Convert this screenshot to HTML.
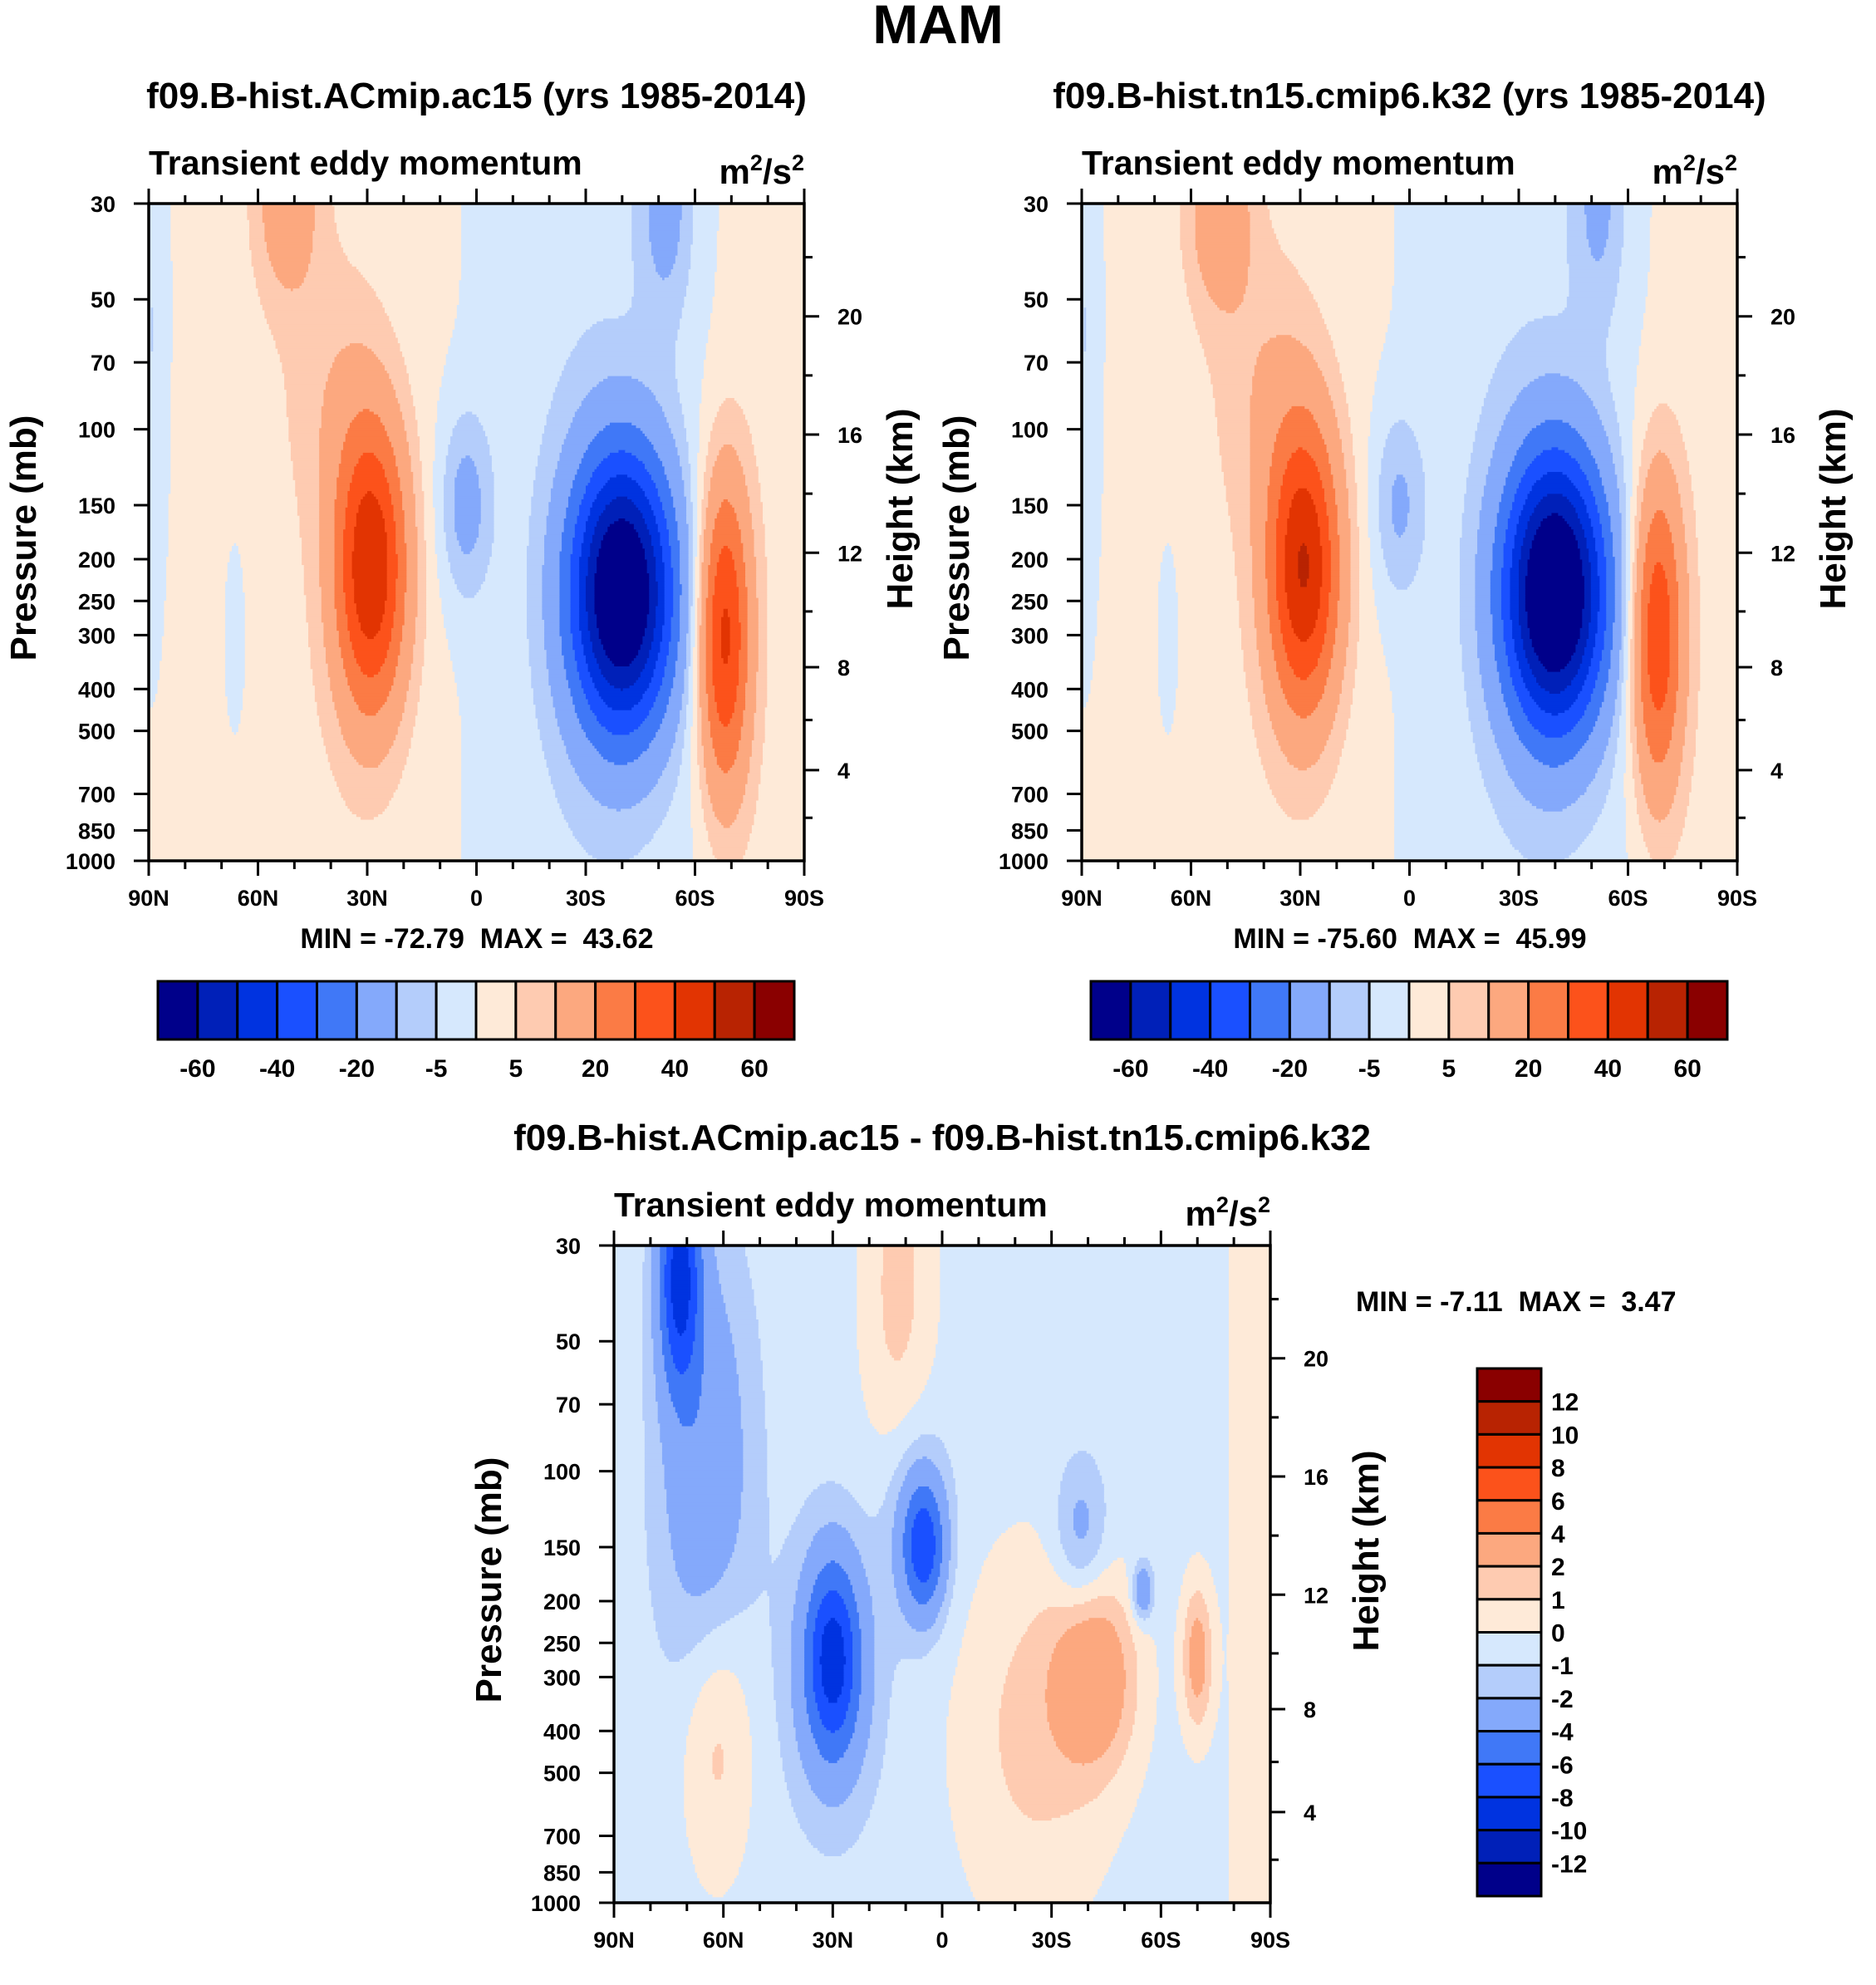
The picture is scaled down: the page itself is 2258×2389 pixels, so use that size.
<!DOCTYPE html>
<html><head><meta charset="utf-8"><style>
body{margin:0;background:#fff}
svg text{font-family:"Liberation Sans",sans-serif;font-weight:bold;fill:#000}
.pre{white-space:pre}
</style></head><body>
<svg id="fig" width="2258" height="2384" viewBox="0 0 2258 2384" xmlns="http://www.w3.org/2000/svg">
<rect width="2258" height="2384" fill="#fff"/>
<text x="1129" y="52" font-size="66" text-anchor="middle">MAM</text>
<g id="p1"></g>
<g id="p2"></g>
<g id="p3"></g>
</svg>
<script>
// ---- data ----
const levelsMain = [-60,-50,-40,-30,-20,-10,-5,0,5,10,20,30,40,50,60];
const levelsDiff = [-12,-10,-8,-6,-4,-2,-1,0,1,2,4,6,8,10,12];
const colors = ["#00008a","#0020b8","#0033e0","#1a50ff","#4078f7","#84a9fb","#b4cdfb","#d6e8fd","#feead8","#fecbb1","#fca87f","#fb7b45","#fc521b","#e23402","#b82302","#8a0000"];
const pressTicks = [30,50,70,100,150,200,250,300,400,500,700,850,1000];
const kmTicks = [4,8,12,16,20];
const latTicks = [90,60,30,0,-30,-60,-90];
const latLabels = ["90N","60N","30N","0","30S","60S","90S"];
const mainBarLabels = ["-60","-40","-20","-5","5","20","40","60"];
const diffBarLabels = ["12","10","8","6","4","2","1","0","-1","-2","-4","-6","-8","-10","-12"];

// blob parameters panel 1 (lat, pressure mb, amplitude, lat-width deg, log-height width)
const p1Lat  = [45,-30,-80,29,52,40,-40,-52,-68,3,89,66];
const p1Pres = [200,200,200,210,30,80,240,30,300,150,60,300];
const p1Amp  = [3,-4,3,47,14,5,-75,-12,42,-13,-6,-3];
const p1SLat = [30,22,10,7,6,9,10,5,5,5,3,4];
const p1SZ   = [1,1,1,0.16,0.1,0.15,0.15,0.12,0.17,0.1,0.3,0.2];
// panel 2
const p2Lat  = [45,-30,-80,29,52,40,-40,-52,-68,3,89,66];
const p2Pres = [200,200,200,210,32,80,240,30,300,150,60,300];
const p2Amp  = [3,-4,3,48,15,6,-78,-10,38,-11,-6,-3];
const p2SLat = [30,22,10,7,6,9,10,5,5,5,3,4];
const p2SZ   = [1,1,1,0.16,0.1,0.15,0.15,0.12,0.17,0.1,0.3,0.2];
// difference panel
const p3Lat  = [0,72,65,30,30,5,8,-38,-55,-42,-25,-70,62,12,-86];
const p3Pres = [200,35,100,270,300,150,130,140,190,300,400,270,400,40,200];
const p3Amp  = [-0.5,-8,-3,-6.5,-2.5,-6,-2,-2.3,-3.5,3.5,1.8,3.2,2.2,1.8,1.3];
const p3SLat = [200,4,9,5,9,4,7,5,2,8,15,3,7,7,5];
const p3SZ   = [1,0.12,0.25,0.1,0.15,0.07,0.12,0.08,0.03,0.1,0.2,0.08,0.15,0.25,1];

const panel1Min="-72.79", panel1Max="43.62", panel2Min="-75.60", panel2Max="45.99", diffMin="-7.11", diffMax="3.47";

// ---- helpers ----
const NS="http://www.w3.org/2000/svg";
function mk(parent,tag,attrs,text){const e=document.createElementNS(NS,tag);for(const k in attrs)e.setAttribute(k,attrs[k]);if(text!==undefined)e.textContent=text;parent.appendChild(e);return e;}
const LR=Math.log(1000/30);
function zOf(p){return Math.log(1000/p)/LR;}
function kmToP(h){h*=1000;return h<=11000?1013.25*Math.pow(1-2.25577e-5*h,5.25588):226.32*Math.exp(-(h-11000)/6341.6);}
function fieldVal(b,lat,z){let v=0;for(let i=0;i<b.lat.length;i++){const dl=(lat-b.lat[i])/b.sl[i],dz=(z-zOf(b.p[i]))/b.sz[i];v+=b.a[i]*Math.exp(-0.5*(dl*dl+dz*dz));}return v;}
function colorIdx(v,lev){let k=0;while(k<lev.length&&v>=lev[k])k++;return k;}

function drawPanel(g,X,Y,W,H,b,lev,title,minS,maxS,minPos){
  const xs=lat=>X+(90-lat)/180*W, ys=p=>Y+H-zOf(p)*H;
  const cg=mk(g,"g",{});
  
  
  const nx=300,ny=240,cw=W/nx,ch=H/ny;
  for(let j=0;j<ny;j++){
    const z=1-(j+0.5)/ny;let start=0,cur=-1;
    for(let i=0;i<=nx;i++){
      let c=-2;
      if(i<nx){const lat=90-(i+0.5)/nx*180;c=colorIdx(fieldVal(b,lat,z),lev);}
      if(c!==cur){
        if(cur>=0){const r=mk(cg,"rect",{x:(X+start*cw).toFixed(2),y:(Y+j*ch).toFixed(2),width:((i-start)*cw+0.6).toFixed(2),height:(ch+0.6).toFixed(2),fill:colors[cur]});
          
          }
        cur=c;start=i;}
    }
  }
  const fr=mk(g,"rect",{x:X,y:Y,width:W,height:H,fill:"none",stroke:"#000","stroke-width":3.5});
  
  
  for(let lat=90;lat>=-90;lat-=10){const x=xs(lat),L=(lat%30===0)?18:10;
    mk(g,"line",{x1:x,x2:x,y1:Y+H,y2:Y+H+L,stroke:"#000","stroke-width":3});
    mk(g,"line",{x1:x,x2:x,y1:Y,y2:Y-L,stroke:"#000","stroke-width":3});}
  latTicks.forEach((lat,i)=>{const t=mk(g,"text",{x:xs(lat),y:Y+H+54,"font-size":27,"text-anchor":"middle"},latLabels[i]);
    
    });
  pressTicks.forEach(p=>{const y=ys(p);mk(g,"line",{x1:X,x2:X-18,y1:y,y2:y,stroke:"#000","stroke-width":3});
    const t=mk(g,"text",{x:X-40,y:y+10,"font-size":27,"text-anchor":"end"},String(p));
    
    });
  for(let km=2;km<=24;km+=2){const y=ys(kmToP(km));if(y<Y)continue;const L=(km%4===0)?18:10;
    mk(g,"line",{x1:X+W,x2:X+W+L,y1:y,y2:y,stroke:"#000","stroke-width":3});}
  kmTicks.forEach(km=>{const t=mk(g,"text",{x:X+W+40,y:ys(kmToP(km))+10,"font-size":27},String(km));
    
    });
  const yt=mk(g,"text",{x:0,y:0,"font-size":44,"text-anchor":"middle",transform:`translate(${X-136},${Y+H/2+7}) rotate(-90)`},"Pressure (mb)");
  
  
  const ht=mk(g,"text",{x:0,y:0,"font-size":44,"text-anchor":"middle",transform:`translate(${X+W+130},${Y+H/2-28}) rotate(-90)`},"Height (km)");
  
  
  const lt=mk(g,"text",{x:X,y:Y-35,"font-size":41},"Transient eddy momentum");
  
  
  const ut=mk(g,"text",{x:X+W,y:Y-24,"font-size":42,"text-anchor":"end"});
  ut.innerHTML='m<tspan dy="-16" font-size="27">2</tspan><tspan dy="16">/s</tspan><tspan dy="-16" font-size="27">2</tspan>';
  
  
  const tt=mk(g,"text",{x:X+W/2,y:Y-115,"font-size":44,"text-anchor":"middle"},title);
  
  
  const mm=mk(g,"text",{x:minPos[0],y:minPos[1],"font-size":34,"text-anchor":minPos[2],"class":"pre"},`MIN = ${minS}  MAX =  ${maxS}`);
  
  
}

function hBar(g,X,Y,W,H){
  const bw=W/16;
  colors.forEach((c,i)=>{const r=mk(g,"rect",{x:X+i*bw,y:Y,width:bw,height:H,fill:c,stroke:"#000","stroke-width":3});
    
    });
  mainBarLabels.forEach((l,k)=>{const t=mk(g,"text",{x:X+(1+2*k)*bw,y:Y+H+45,"font-size":30,"text-anchor":"middle"},l);
    
    });
}
function vBar(g,X,Y,W,H){
  const bh=H/16;
  colors.slice().reverse().forEach((c,i)=>{const r=mk(g,"rect",{x:X,y:Y+i*bh,width:W,height:bh,fill:c,stroke:"#000","stroke-width":3});
    
    });
  diffBarLabels.forEach((l,k)=>{const t=mk(g,"text",{x:X+W+12,y:Y+(k+1)*bh+11,"font-size":30},l);
    
    });
}

const b1={lat:p1Lat,p:p1Pres,a:p1Amp,sl:p1SLat,sz:p1SZ};
const b2={lat:p2Lat,p:p2Pres,a:p2Amp,sl:p2SLat,sz:p2SZ};
const b3={lat:p3Lat,p:p3Pres,a:p3Amp,sl:p3SLat,sz:p3SZ};
const g1=document.getElementById("p1"),g2=document.getElementById("p2"),g3=document.getElementById("p3");
drawPanel(g1,179,245,789,791,b1,levelsMain,"f09.B-hist.ACmip.ac15 (yrs 1985-2014)",panel1Min,panel1Max,[574,1141,"middle"]);
drawPanel(g2,1302,245,789,791,b2,levelsMain,"f09.B-hist.tn15.cmip6.k32 (yrs 1985-2014)",panel2Min,panel2Max,[1697,1141,"middle"]);
drawPanel(g3,739,1499,790,791,b3,levelsDiff,"f09.B-hist.ACmip.ac15 - f09.B-hist.tn15.cmip6.k32",diffMin,diffMax,[1632,1578,"start"]);
hBar(g1,190,1181,766,70);
hBar(g2,1313,1181,766,70);
vBar(g3,1778,1647,77,635);
</script>
</body></html>
